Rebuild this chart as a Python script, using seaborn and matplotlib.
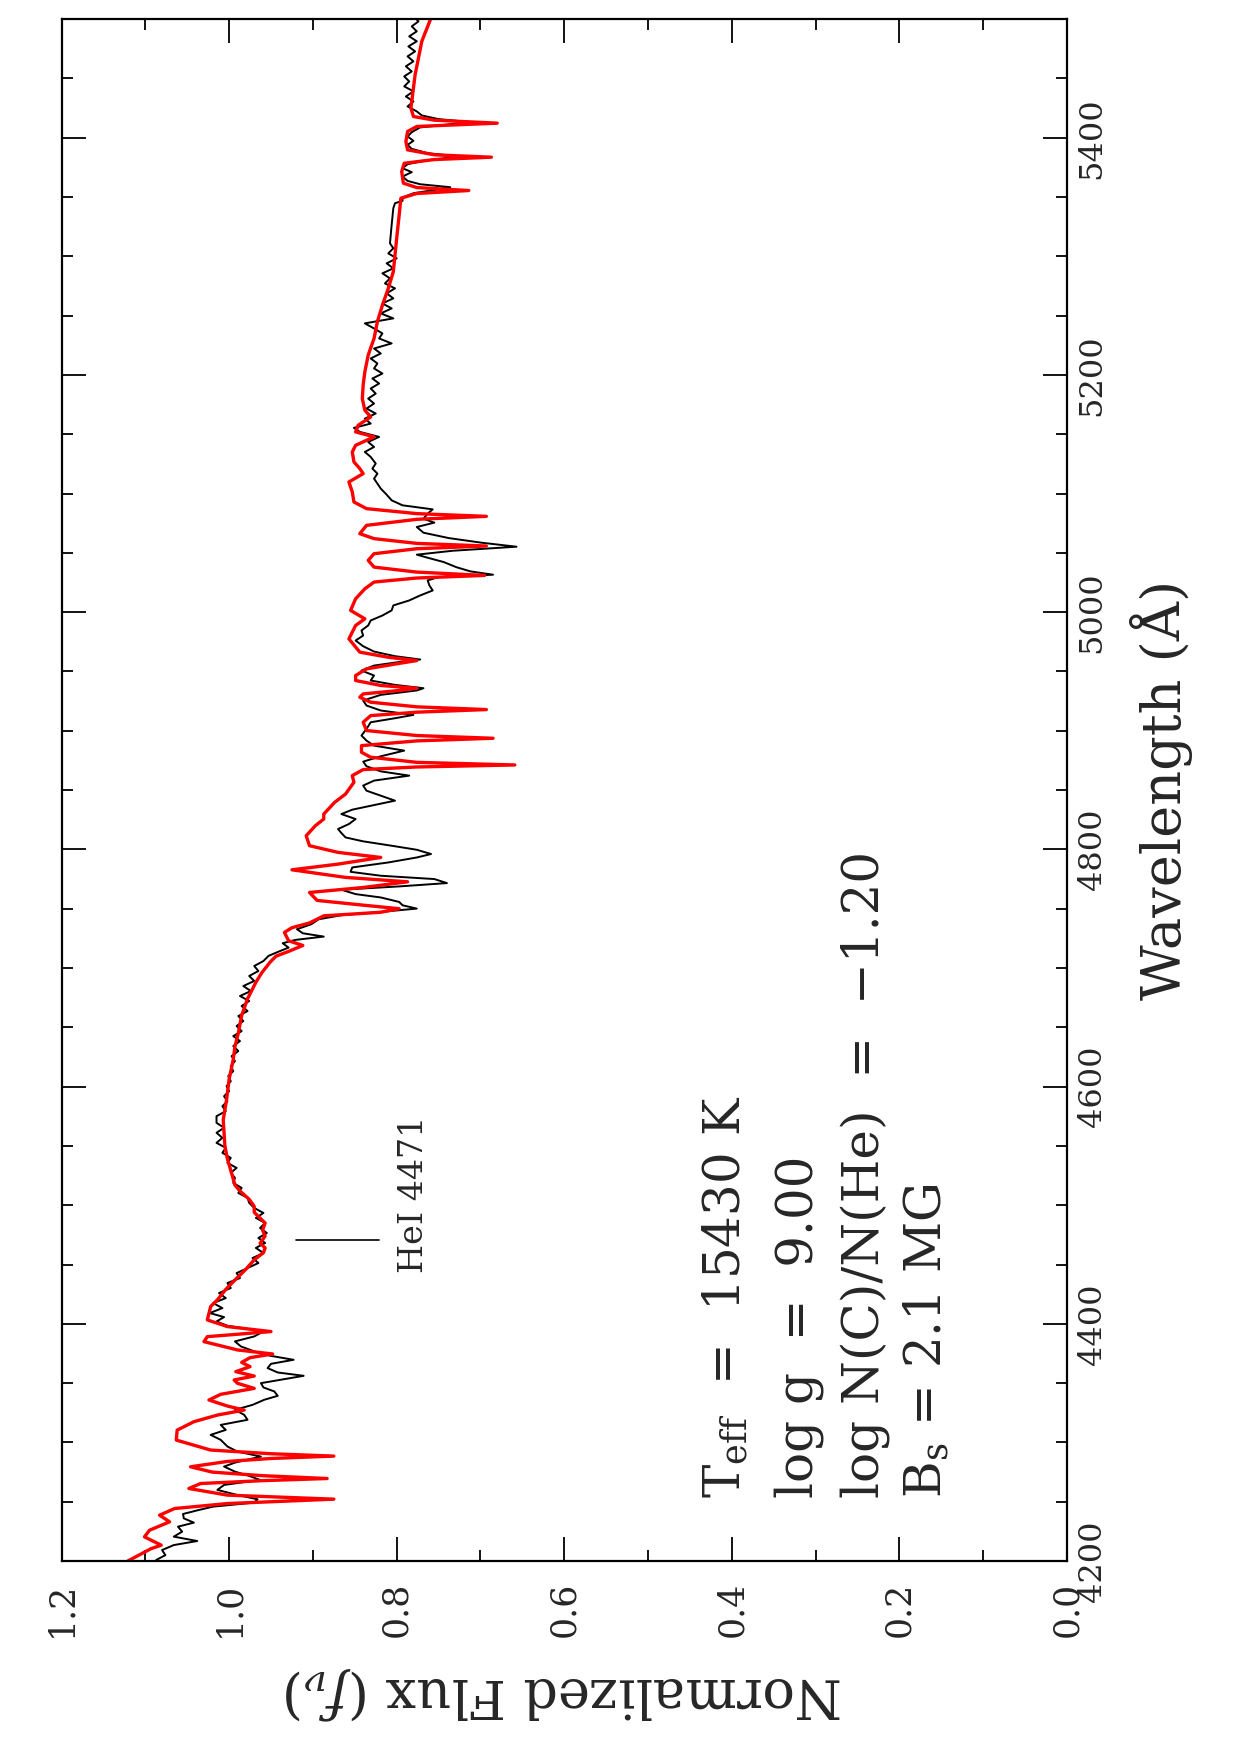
import matplotlib
matplotlib.use("Agg")
import matplotlib.pyplot as plt
import seaborn as sns
from matplotlib.ticker import MultipleLocator

## Data: wavelength (A) and normalized flux

# observed spectrum (black)
obs_wave = [4200.9, 4205.0, 4209.3, 4213.5, 4216.9, 4220.6, 4224.8, 4229.0, 4232.4, 4236.0,
            4239.7, 4243.1, 4245.9, 4249.3, 4252.1, 4255.7, 4260.0, 4264.2, 4268.4, 4271.8,
            4275.4, 4279.7, 4283.0, 4288.1, 4292.3, 4296.6, 4302.2, 4306.4, 4310.6, 4314.8,
            4319.1, 4323.3, 4327.5, 4331.7, 4336.0, 4339.3, 4343.0, 4346.4, 4350.0, 4353.4,
            4356.2, 4359.0, 4362.7, 4366.3, 4369.7, 4373.1, 4376.8, 4381.0, 4385.2,
            4389.4, 4392.8, 4395.6, 4398.4, 4402.0, 4405.7, 4409.1, 4413.3, 4417.5, 4421.7,
            4426.0, 4430.2, 4434.4, 4438.6, 4442.8, 4447.1, 4451.3, 4455.5, 4459.7, 4464.0,
            4468.2, 4472.4, 4476.6, 4480.8, 4485.1, 4489.3, 4493.5, 4497.7, 4502.0, 4506.2,
            4510.4, 4514.6, 4518.8, 4523.1, 4527.3, 4531.5, 4535.7, 4539.9, 4544.2, 4548.4,
            4552.6, 4556.8, 4561.1, 4565.3, 4569.5,
            4575.1, 4579.3, 4583.5, 4587.7, 4591.9, 4596.2, 4600.4, 4604.6, 4608.9, 4613.1,
            4617.3, 4621.5, 4625.7, 4630.0, 4634.2, 4638.4, 4642.6, 4646.8, 4651.1, 4655.3,
            4659.5, 4663.7, 4668.0, 4672.2, 4676.4, 4680.6, 4684.8, 4689.1, 4693.3, 4697.5,
            4701.7, 4705.9, 4710.2, 4713.5, 4717.2, 4720.9, 4723.7, 4726.5, 4729.3, 4732.7,
            4736.9, 4741.1, 4744.5, 4747.3, 4750.1, 4752.9, 4755.7,
            4759.5, 4762.3, 4766.0, 4768.8, 4771.6, 4775.0, 4777.8, 4781.1, 4784.8, 4789.0,
            4793.2, 4796.1, 4799.7, 4803.1, 4806.8, 4810.1, 4813.8, 4817.2, 4821.4, 4825.6,
            4829.8, 4833.5, 4837.4, 4841.1, 4845.3, 4849.5, 4853.8, 4858.0, 4862.2, 4865.8,
            4870.1, 4874.0, 4878.5, 4883.3, 4887.5, 4891.7, 4896.0, 4901.6, 4907.2, 4910.6,
            4913.4, 4917.1, 4921.3, 4925.5, 4930.3, 4934.0, 4935.9, 4938.7, 4942.4,
            4946.6, 4950.8, 4955.0, 4958.4, 4960.1, 4962.9, 4966.8, 4971.3, 4976.1, 4980.3,
            4984.6, 4988.8, 4993.0, 4997.2, 5001.5, 5005.7, 5009.9, 5014.1, 5018.3, 5022.6,
            5026.8, 5029.6, 5031.6, 5034.4, 5038.0, 5042.3, 5045.9, 5048.5, 5051.8, 5055.2,
            5058.6, 5062.5, 5067.0, 5071.8, 5075.5, 5078.8, 5083.1, 5086.7, 5090.1, 5094.3,
            5099.1, 5104.2, 5108.4, 5112.6, 5116.8, 5121.1, 5125.3,
            5130.9, 5135.1, 5139.3, 5143.5, 5147.8, 5152.0, 5155.4, 5159.0, 5163.2, 5167.5,
            5171.7, 5175.9, 5180.1, 5184.3, 5188.6, 5192.8, 5197.0, 5201.2, 5205.5, 5209.7,
            5213.9, 5218.1, 5222.3, 5226.6, 5230.8, 5235.0, 5239.2, 5243.5, 5247.7, 5251.9,
            5256.1, 5260.3, 5264.6, 5268.8, 5273.0, 5277.2, 5281.4, 5285.7, 5289.9, 5294.1,
            5298.3, 5302.5, 5306.8, 5311.0,
            5326.5, 5340.6, 5344.8, 5346.8, 5349.6, 5353.2, 5356.0, 5358.3, 5360.8, 5363.6,
            5367.3, 5371.0, 5374.3, 5377.7, 5381.1, 5384.2, 5387.0, 5390.6, 5394.0, 5397.4,
            5401.1, 5404.7, 5408.7, 5411.5, 5413.2, 5415.7, 5418.8, 5422.2, 5426.4, 5430.6,
            5434.8, 5439.1, 5443.3, 5447.5, 5451.7, 5455.9, 5460.2, 5464.4, 5468.6, 5472.8,
            5477.0, 5481.3, 5485.5, 5489.7, 5493.9, 5498.1, 5501.0]
obs_flux = [1.087, 1.076, 1.080, 1.066, 1.038, 1.066, 1.056, 1.061, 1.042, 1.054,
            1.055, 1.036, 1.019, 0.970, 0.966, 0.990, 1.014, 1.006, 0.963, 0.976,
            0.993, 1.006, 0.993, 0.962, 0.990, 1.002, 1.010, 1.022, 1.004, 1.010,
            0.978, 0.982, 0.993, 0.972, 0.958, 0.942, 0.946, 0.959, 0.962, 0.934,
            0.911, 0.942, 0.954, 0.950, 0.923, 0.951, 0.970, 0.986, 0.993,
            0.970, 0.961, 0.976, 1.002, 1.015, 1.006, 1.023, 1.008, 1.019, 1.004,
            1.012, 0.998, 1.002, 0.987, 0.991, 0.978, 0.965, 0.972, 0.959, 0.968,
            0.957, 0.965, 0.955, 0.963, 0.957, 0.968, 0.959, 0.970, 0.976, 0.978,
            0.989, 0.985, 0.995, 0.993, 0.998, 0.991, 1.002, 0.998, 1.008, 1.004,
            1.015, 1.008, 1.015, 1.006, 1.015,
            1.015, 1.004, 1.008, 1.002, 1.006, 1.000, 1.003, 0.998, 1.001, 0.995,
            0.998, 0.993, 0.997, 0.989, 0.995, 0.987, 0.995, 0.985, 0.991, 0.983,
            0.989, 0.978, 0.985, 0.976, 0.987, 0.974, 0.983, 0.970, 0.976, 0.965,
            0.970, 0.959, 0.953, 0.942, 0.929, 0.936, 0.921, 0.887, 0.912, 0.919,
            0.902, 0.893, 0.866, 0.819, 0.776, 0.793, 0.797,
            0.819, 0.849, 0.866, 0.797, 0.740, 0.755, 0.819, 0.855, 0.853, 0.810,
            0.776, 0.759, 0.776, 0.806, 0.840, 0.861, 0.866, 0.870, 0.857, 0.849,
            0.866, 0.853, 0.827, 0.802, 0.819, 0.836, 0.840, 0.827, 0.785, 0.819,
            0.836, 0.840, 0.819, 0.791, 0.827, 0.836, 0.842, 0.836, 0.831, 0.802,
            0.780, 0.819, 0.836, 0.840, 0.819, 0.776, 0.768, 0.802, 0.831,
            0.827, 0.842, 0.827, 0.793, 0.772, 0.802, 0.827, 0.840, 0.849, 0.840,
            0.842, 0.834, 0.831, 0.817, 0.806, 0.804, 0.785, 0.772, 0.757, 0.761,
            0.763, 0.750, 0.685, 0.712, 0.729, 0.744, 0.763, 0.776, 0.733, 0.657,
            0.699, 0.738, 0.768, 0.776, 0.755, 0.768, 0.763, 0.757, 0.793, 0.806,
            0.812, 0.819, 0.823, 0.827, 0.823, 0.829, 0.825,
            0.831, 0.838, 0.827, 0.834, 0.821, 0.844, 0.851, 0.831, 0.838, 0.825,
            0.836, 0.827, 0.834, 0.825, 0.831, 0.821, 0.829, 0.817, 0.827, 0.823,
            0.831, 0.819, 0.827, 0.806, 0.821, 0.817, 0.827, 0.838, 0.804, 0.819,
            0.806, 0.817, 0.804, 0.812, 0.802, 0.814, 0.808, 0.817, 0.804, 0.812,
            0.800, 0.810, 0.804, 0.808,
            0.806, 0.804, 0.802, 0.793, 0.793, 0.780, 0.755, 0.736, 0.772, 0.787,
            0.793, 0.782, 0.793, 0.787, 0.763, 0.725, 0.763, 0.782, 0.787, 0.780,
            0.787, 0.782, 0.772, 0.734, 0.712, 0.750, 0.770, 0.776, 0.787, 0.780,
            0.789, 0.780, 0.791, 0.785, 0.791, 0.782, 0.789, 0.780, 0.787, 0.778,
            0.786, 0.776, 0.785, 0.776, 0.782, 0.774, 0.778]

# model spectrum (red)
model_wave = [4200.0, 4210.5, 4213.4, 4220.4, 4226.0, 4233.1, 4238.7, 4244.3, 4248.5, 4252.2,
              4255.6, 4261.2, 4265.4, 4267.8, 4269.6, 4272.0, 4275.0, 4279.5, 4284.0, 4286.5,
              4288.5, 4290.5, 4293.6, 4302.0, 4310.4, 4317.5, 4323.1, 4327.3, 4330.7, 4335.8,
              4340.6, 4345.6, 4349.9, 4352.7, 4356.0, 4359.7, 4363.9, 4367.5, 4371.5, 4374.6,
              4378.0, 4385.0, 4389.2, 4393.5, 4397.7, 4403.3, 4414.6, 4420.2,
              4429, 4437, 4446, 4454, 4460, 4464,
              4468, 4474, 4479, 4485, 4494, 4499, 4505, 4512, 4517, 4527,
              4539, 4550, 4561, 4572,
              4589, 4606, 4623, 4634, 4645, 4660, 4674, 4688, 4696, 4705,
              4710, 4714, 4719, 4723, 4730, 4734, 4738, 4744, 4747, 4750,
              4753, 4757, 4763.7, 4767.9, 4772.7, 4776.4, 4782.8, 4787.6, 4793.2, 4797.5,
              4803.1, 4811.5, 4820.0, 4825.6, 4829.8, 4839.7, 4846.7, 4856.6, 4862.2, 4867.3,
              4869.5, 4871.2, 4873.4, 4877.7, 4881.9, 4887.5, 4891.5, 4893.7, 4896.0, 4900.2,
              4907.2, 4912.8, 4915.7, 4917.9, 4920.2, 4924.1, 4928.3, 4931.1, 4934.0, 4935.9,
              4938.2, 4942.4, 4946.6, 4952.2, 4957.3, 4959.2, 4962.0, 4966.3, 4977.5, 4988.8,
              4994.4, 5001.5, 5011.3, 5019.7, 5025.4, 5028.8, 5031.0, 5033.8, 5038.0, 5043.7,
              5049.3, 5053.5, 5055.8, 5058.0, 5062.0, 5066.2, 5073.2, 5078.3, 5080.8, 5083.1,
              5087.3, 5092.9, 5101.4, 5109.8, 5116.8, 5121.1, 5126.7, 5135.1, 5140.7, 5147.8,
              5152.0, 5157.6, 5164.6, 5170.3, 5180.1, 5191.4, 5202.6, 5216.7, 5230.8, 5244.9,
              5258.9, 5273.0, 5287.1, 5301.1, 5315.2, 5334.9, 5349.0, 5353.0, 5355.5, 5358.0,
              5361.7, 5371.5, 5378.5, 5381.6, 5383.6, 5385.6, 5389.8, 5396.8, 5405.3, 5409.5,
              5412.3, 5414.8, 5417.9, 5425.0, 5453.1, 5481.3, 5501.0]
model_flux = [1.121, 1.093, 1.081, 1.101, 1.095, 1.071, 1.083, 1.065, 1.002, 0.875,
              1.002, 1.048, 1.034, 0.960, 0.883, 0.960, 1.020, 1.046, 1.002, 0.950,
              0.875, 0.950, 1.022, 1.063, 1.062, 1.042, 1.014, 0.982, 1.002, 1.024,
              1.010, 0.970, 0.990, 0.994, 0.970, 0.992, 0.975, 0.985, 0.975, 0.948,
              0.990, 1.030, 1.026, 0.950, 1.002, 1.026, 1.022, 1.014,
              1.004, 0.993, 0.980, 0.970, 0.959, 0.957,
              0.963, 0.957, 0.960, 0.957, 0.970, 0.970, 0.976, 0.987, 0.993, 0.997,
              1.002, 1.005, 1.006, 1.007,
              1.003, 1.000, 0.995, 0.993, 0.989, 0.985, 0.978, 0.968, 0.961, 0.951,
              0.944, 0.929, 0.912, 0.929, 0.934, 0.925, 0.904, 0.887, 0.819, 0.797,
              0.840, 0.895, 0.904, 0.840, 0.787, 0.861, 0.925, 0.870, 0.819, 0.870,
              0.904, 0.908, 0.897, 0.887, 0.887, 0.874, 0.861, 0.851, 0.853, 0.840,
              0.776, 0.659, 0.776, 0.831, 0.842, 0.842, 0.776, 0.685, 0.776, 0.836,
              0.840, 0.831, 0.776, 0.693, 0.776, 0.831, 0.844, 0.840, 0.797, 0.776,
              0.819, 0.849, 0.849, 0.836, 0.793, 0.776, 0.810, 0.844, 0.857, 0.849,
              0.838, 0.855, 0.849, 0.838, 0.827, 0.776, 0.695, 0.776, 0.827, 0.834,
              0.827, 0.776, 0.693, 0.776, 0.827, 0.844, 0.836, 0.776, 0.693, 0.776,
              0.836, 0.851, 0.853, 0.857, 0.840, 0.844, 0.851, 0.853, 0.849, 0.827,
              0.849, 0.846, 0.831, 0.838, 0.841, 0.840, 0.838, 0.834, 0.827, 0.823,
              0.817, 0.810, 0.804, 0.802, 0.800, 0.797, 0.795, 0.776, 0.714, 0.776,
              0.792, 0.794, 0.791, 0.755, 0.687, 0.755, 0.787, 0.789, 0.787, 0.776,
              0.680, 0.755, 0.780, 0.783, 0.778, 0.770, 0.759]

# annotation texts
param_lines = ["T$_{\\mathrm{eff}}$  =  15430 K",
               "log g  =  9.00",
               "log N(C)/N(He)  =  \u22121.20",
               "B$_{\\mathrm{s}}$ = 2.1 MG"]
param_flux = [0.389, 0.304, 0.225, 0.150]

sns.set_style("ticks")
plt.rcParams['font.family'] = ['DejaVu Serif']
plt.rcParams['mathtext.fontset'] = 'dejavuserif'

fig = plt.figure(figsize=(12.4, 17.55), dpi=100)
ax = fig.add_axes([0.0496, 0.1105, 0.8109, 0.8786])

# the plot is drawn rotated: flux runs horizontally (inverted), wavelength vertically
sns.lineplot(x=obs_flux, y=obs_wave, sort=False, estimator=None,
             color='black', linewidth=1.4, ax=ax)
sns.lineplot(x=model_flux, y=model_wave, sort=False, estimator=None,
             color='red', linewidth=2.4, ax=ax)

ax.set_xlim(1.2, 0.0)
ax.set_ylim(4200, 5500)

ax.xaxis.set_minor_locator(MultipleLocator(0.1))
ax.yaxis.set_major_locator(MultipleLocator(200))
ax.yaxis.set_minor_locator(MultipleLocator(50))
ax.set_xticks([1.2, 1.0, 0.8, 0.6, 0.4, 0.2, 0.0])
ax.set_xticklabels(['1.2', '1.0', '0.8', '0.6', '0.4', '0.2', '0.0'])

ax.tick_params(which='both', direction='in', top=True, bottom=True, left=True, right=True,
               labelleft=False, labelright=True, color='black', width=1.3)
ax.tick_params(which='major', length=17)
ax.tick_params(which='minor', length=8)
ax.tick_params(axis='x', labelsize=25, labelrotation=90, pad=15)
ax.tick_params(axis='y', labelsize=23, labelrotation=90, pad=7)
for lab in ax.get_yticklabels():
    lab.set_va('center')

for s in ax.spines.values():
    s.set_linewidth(1.6)
    s.set_color('black')

ax.set_xlabel('Normalized Flux ($f_{\\nu}$)', fontsize=39, rotation=180, labelpad=20)
ax.yaxis.set_label_position('right')
ax.set_ylabel('Wavelength (\u00c5)', fontsize=39, rotation=90, labelpad=16)

# HeI 4471 marker
ax.plot([0.920, 0.821], [4471, 4471], color='black', linewidth=1.2)
ax.text(0.769, 4443, 'HeI 4471', fontsize=24, rotation=90, rotation_mode='anchor',
        ha='left', va='baseline')

# model parameters
for fx, txt in zip(param_flux, param_lines):
    ax.text(fx, 4253, txt, fontsize=36, rotation=90, rotation_mode='anchor',
            ha='left', va='baseline')

fig.savefig('out.png', dpi=100, facecolor='white')
